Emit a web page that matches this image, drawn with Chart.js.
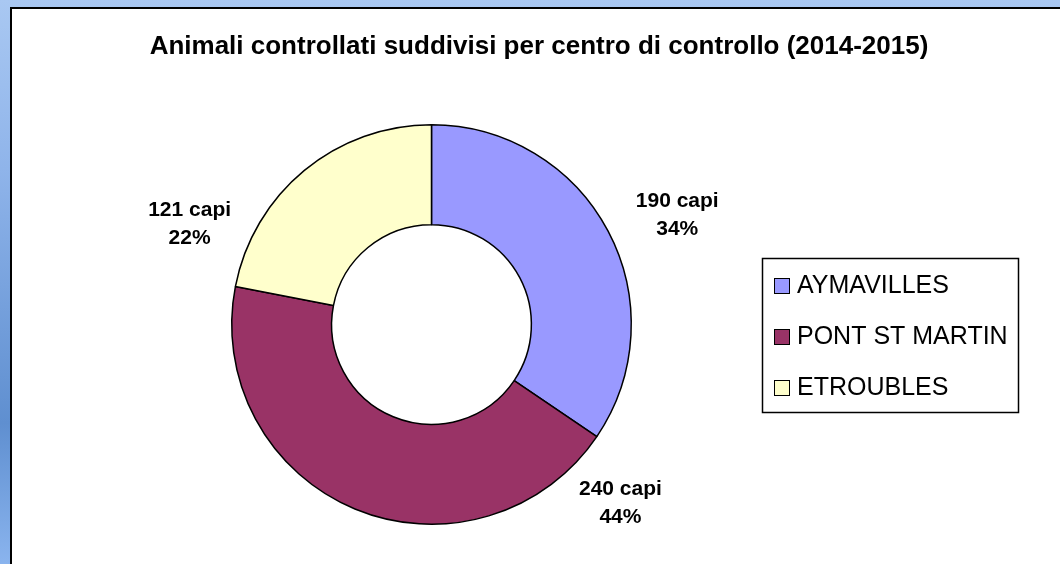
<!DOCTYPE html>
<html>
<head>
<meta charset="utf-8">
<script src="https://cdn.jsdelivr.net/npm/chart.js@4"></script>
<style>
  html, body { margin: 0; padding: 0; width: 1060px; height: 564px; overflow: hidden; }
  body { background: linear-gradient(180deg, #a9c8f2 0%, #8fb4ea 30%, #5f8fd0 75%, #8ab4ee 100%); position: relative; }
  #frame { position: absolute; left: 10px; top: 7px; width: 1060px; height: 570px; background: #fff; border: 2px solid #000; box-sizing: border-box; }
  #wrap { position: absolute; left: 0; top: 0; width: 1060px; height: 564px; }
</style>
</head>
<body>
<div id="frame"></div>
<div id="wrap"><canvas id="chart-pie"></canvas></div>
<script>
// ── Dati ────────────────────────────────────────────────────────────────
const TITLE       = 'Animali controllati suddivisi per centro di controllo (2014-2015)';
const centri      = ['AYMAVILLES', 'PONT ST MARTIN', 'ETROUBLES'];
const capi        = [190, 240, 121];
const percentuali = ['34%', '44%', '22%'];
const COLORI      = ['#9999ff', '#993366', '#ffffcc'];

// dove Excel ha messo le etichette: angolo (gradi, 0 = ore 3) e distanza dal centro
const LABEL_ANGLES = [-24, 43.4, 202.6];
const LABEL_RADII  = [269, 260, 262];

const FONT = '"Liberation Sans", Arial, sans-serif';

// titolo, etichette e legenda disegnati a mano (stile Excel)
const excelDecor = {
  id: 'excelDecor',
  afterDraw(chart) {
    const ctx = chart.ctx;
    const meta = chart.getDatasetMeta(0);
    const cx = meta.data[0].x, cy = meta.data[0].y;
    ctx.save();
    ctx.fillStyle = '#000';
    ctx.textAlign = 'center';
    ctx.textBaseline = 'middle';

    ctx.font = 'bold 26px ' + FONT;
    ctx.fillText(TITLE, 539, 47);

    ctx.font = 'bold 21px ' + FONT;
    capi.forEach((v, i) => {
      const a = LABEL_ANGLES[i] * Math.PI / 180;
      const x = cx + Math.cos(a) * LABEL_RADII[i];
      const y = cy + Math.sin(a) * LABEL_RADII[i];
      ctx.fillText(v + ' capi', x, y - 14);
      ctx.fillText(percentuali[i], x, y + 14);
    });

    // legenda
    const lx = 762, ly = 258, lw = 256, lh = 154;
    ctx.lineWidth = 1.5;
    ctx.strokeStyle = '#000';
    ctx.strokeRect(lx + 0.5, ly + 0.5, lw, lh);
    ctx.font = '25px ' + FONT;
    ctx.textAlign = 'left';
    centri.forEach((c, i) => {
      const y = 285 + i * 51;
      ctx.fillStyle = COLORI[i];
      ctx.fillRect(774, y - 7, 15, 15);
      ctx.lineWidth = 1;
      ctx.strokeRect(774.5, y - 6.5, 15, 15);
      ctx.fillStyle = '#000';
      ctx.fillText(c, 797, y + 1);
    });
    ctx.restore();
  }
};

new Chart(document.getElementById('chart-pie').getContext('2d'), {
  type: 'doughnut',
  data: {
    labels: centri,
    datasets: [{
      data: capi,
      backgroundColor: COLORI,
      borderColor: '#000',
      borderWidth: 1.5,
      hoverOffset: 0
    }]
  },
  options: {
    responsive: true, maintainAspectRatio: false,
    animation: false,
    cutout: '50%',
    events: [],
    layout: { padding: { left: 231, right: 428, top: 124, bottom: 39 } },
    plugins: {
      legend: { display: false },
      title: { display: false },
      tooltip: { enabled: false }
    }
  },
  plugins: [excelDecor]
});
</script>
</body>
</html>
